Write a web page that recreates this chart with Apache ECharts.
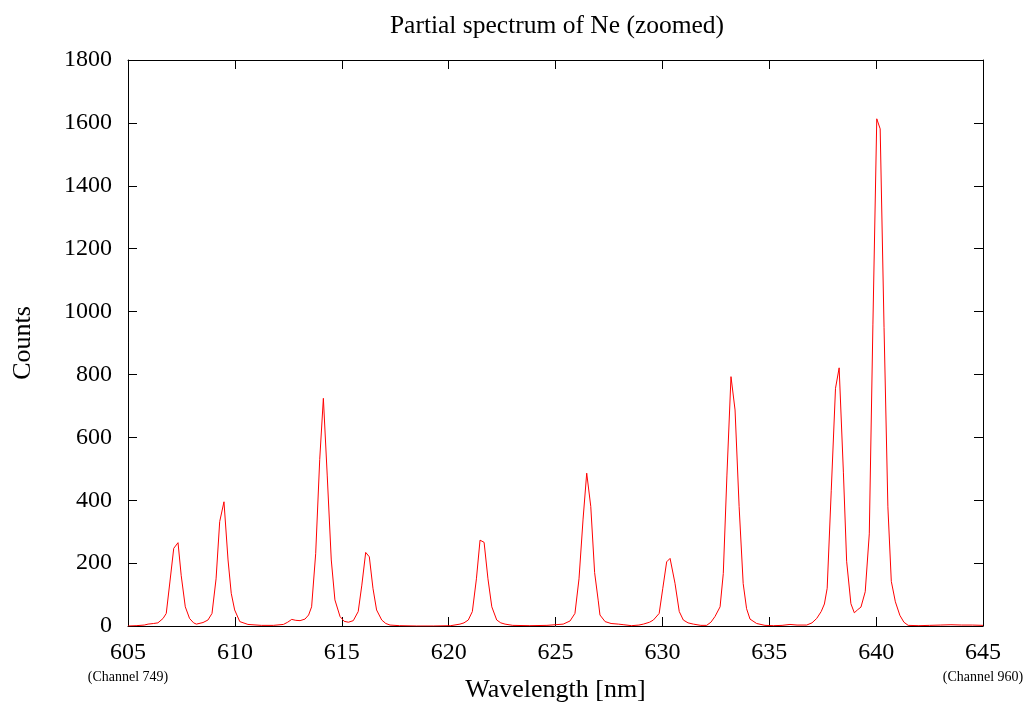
<!DOCTYPE html>
<html>
<head>
<meta charset="utf-8">
<script src="https://cdn.jsdelivr.net/npm/echarts@6/dist/echarts.min.js"></script>
<style>
  html, body { margin: 0; padding: 0; background: #fff; }
  #chart { width: 1028px; height: 707px; }
</style>
</head>
<body>
<div id="chart"></div>
<script>
// Wavelength (nm) of each plotted sample
const wavelength = [
  605.00, 605.38, 605.76, 605.94, 606.20, 606.40, 606.64, 606.79, 606.96, 607.14,
  607.34, 607.49, 607.68, 607.88, 608.07, 608.20, 608.51, 608.74, 608.93, 609.12,
  609.29, 609.49, 609.68, 609.83, 609.99, 610.23, 610.61, 611.24, 611.80, 612.27,
  612.47, 612.66, 612.85, 613.05, 613.28, 613.45, 613.59, 613.78, 613.97, 614.14,
  614.32, 614.51, 614.68, 614.92, 615.11, 615.31, 615.54, 615.77, 615.94, 616.12,
  616.29, 616.46, 616.63, 616.87, 617.06, 617.26, 617.70, 618.50, 619.30, 620.10,
  620.53, 620.72, 620.92, 621.11, 621.30, 621.47, 621.66, 621.84, 622.02, 622.25,
  622.44, 622.64, 623.00, 623.80, 624.60, 625.36, 625.68, 625.91, 626.10, 626.29,
  626.46, 626.65, 626.83, 627.00, 627.08, 627.32, 627.60, 627.94, 628.20, 628.56,
  628.90, 629.11, 629.40, 629.58, 629.85, 630.02, 630.20, 630.36, 630.59, 630.79,
  630.98, 631.20, 631.45, 631.80, 632.07, 632.27, 632.46, 632.70, 632.85, 633.02,
  633.21, 633.40, 633.59, 633.78, 633.94, 634.10, 634.41, 634.80, 635.20, 635.60,
  635.97, 636.30, 636.75, 637.00, 637.22, 637.43, 637.58, 637.71, 637.90, 638.10,
  638.27, 638.47, 638.62, 638.82, 638.98, 639.14, 639.29, 639.49, 639.68, 639.85,
  640.03, 640.19, 640.37, 640.55, 640.71, 640.90, 641.11, 641.30, 641.50, 642.00,
  642.50, 643.00, 643.50, 644.00, 644.50, 645.00
];
// Counts at each sample
const counts = [
  0, 1, 3, 6, 8, 10, 24, 40, 140, 247,
  265, 160, 61, 24, 10, 6, 11, 19, 40, 150,
  332, 395, 210, 104, 51, 14, 5, 2, 2, 5,
  12, 21, 18, 17, 22, 35, 61, 230, 530, 724,
  480, 210, 83, 30, 15, 12, 17, 46, 130, 234,
  220, 120, 51, 19, 8, 3, 1, 0, 0, 1,
  6, 10, 19, 46, 150, 273, 266, 150, 61, 19,
  10, 6, 2, 1, 2, 6, 16, 40, 150, 340,
  486, 380, 170, 80, 35, 14, 8, 6, 4, 1,
  3, 6, 12, 19, 40, 120, 204, 215, 136, 46,
  19, 10, 6, 2, 2, 12, 30, 61, 167, 480,
  793, 687, 380, 135, 55, 22, 8, 2, 1, 2,
  5, 3, 3, 10, 24, 46, 70, 120, 430, 756,
  821, 487, 206, 71, 42, 52, 60, 109, 293, 960,
  1613, 1581, 950, 379, 142, 77, 34, 12, 2, 1,
  2, 3, 4, 3, 3, 2
];
// Axis ticks and notes
const xTicks = [605, 610, 615, 620, 625, 630, 635, 640, 645];
const yTicks = [0, 200, 400, 600, 800, 1000, 1200, 1400, 1600, 1800];
const channelTicks = [605, 645];
const channelNotes = ['(Channel 749)', '(Channel 960)'];

const titleText = 'Partial spectrum of Ne (zoomed)';
const xName = 'Wavelength [nm]';
const yName = 'Counts';

const FONT = '"Liberation Serif", "DejaVu Serif", serif';

const points = wavelength.map((w, i) => [w, counts[i]]);

const chart = echarts.init(document.getElementById('chart'), null, { renderer: 'canvas' });

const axisLineStyle = { show: true, onZero: false, lineStyle: { color: '#000', width: 1 } };
const tickStyle = { show: true, inside: true, length: 9, lineStyle: { color: '#000', width: 1 } };

const GRID = { left: 128, right: 45, top: 60, bottom: 81 };

chart.setOption({
  animation: false,
  backgroundColor: '#fff',
  title: {
    text: titleText,
    left: 552,
    textAlign: 'center',
    top: 8,
    textStyle: { fontFamily: FONT, fontSize: 25.5, fontWeight: 'normal', color: '#000' }
  },
  grid: Object.assign({ containLabel: false, outerBoundsMode: 'none' }, GRID),
  xAxis: [
    {
      type: 'value',
      position: 'bottom',
      min: xTicks[0],
      max: xTicks[xTicks.length - 1],
      interval: xTicks[1] - xTicks[0],
      name: xName,
      nameLocation: 'middle',
      nameGap: 51,
      nameMoveOverlap: false,
      nameTextStyle: { fontFamily: FONT, fontSize: 26, color: '#000' },
      axisLine: axisLineStyle,
      axisTick: tickStyle,
      splitLine: { show: false },
      axisLabel: {
        margin: 14,
        fontFamily: FONT,
        fontSize: 24,
        color: '#000',
        showMinLabel: true,
        showMaxLabel: true,
        formatter: function (v) {
          const k = channelTicks.indexOf(v);
          if (k >= 0) return '{v|' + v + '}\n{c|' + channelNotes[k] + '}';
          return '{v|' + v + '}';
        },
        rich: {
          v: { fontFamily: FONT, fontSize: 24, color: '#000', lineHeight: 26 },
          c: { fontFamily: FONT, fontSize: 14, color: '#000', lineHeight: 22 }
        }
      }
    },
    {
      type: 'value',
      position: 'top',
      min: xTicks[0],
      max: xTicks[xTicks.length - 1],
      interval: xTicks[1] - xTicks[0],
      axisLine: axisLineStyle,
      axisTick: tickStyle,
      axisLabel: { show: false },
      splitLine: { show: false }
    }
  ],
  yAxis: [
    {
      type: 'value',
      position: 'left',
      min: yTicks[0],
      max: yTicks[yTicks.length - 1],
      interval: yTicks[1] - yTicks[0],
      name: yName,
      nameLocation: 'middle',
      nameRotate: 90,
      nameGap: 92,
      nameMoveOverlap: false,
      nameTextStyle: { fontFamily: FONT, fontSize: 26, color: '#000' },
      axisLine: axisLineStyle,
      axisTick: tickStyle,
      splitLine: { show: false },
      axisLabel: {
        margin: 16, fontFamily: FONT, fontSize: 24, color: '#000',
        formatter: function (v) { return String(v); }
      }
    },
    {
      type: 'value',
      position: 'right',
      min: yTicks[0],
      max: yTicks[yTicks.length - 1],
      interval: yTicks[1] - yTicks[0],
      axisLine: axisLineStyle,
      axisTick: tickStyle,
      axisLabel: { show: false },
      splitLine: { show: false }
    }
  ],
  series: [
    {
      type: 'line',
      xAxisIndex: 0,
      yAxisIndex: 0,
      data: points,
      showSymbol: false,
      symbol: 'none',
      smooth: false,
      lineStyle: { color: '#ff0000', width: 1 },
      itemStyle: { color: '#ff0000' }
    }
  ]
});
</script>
</body>
</html>
